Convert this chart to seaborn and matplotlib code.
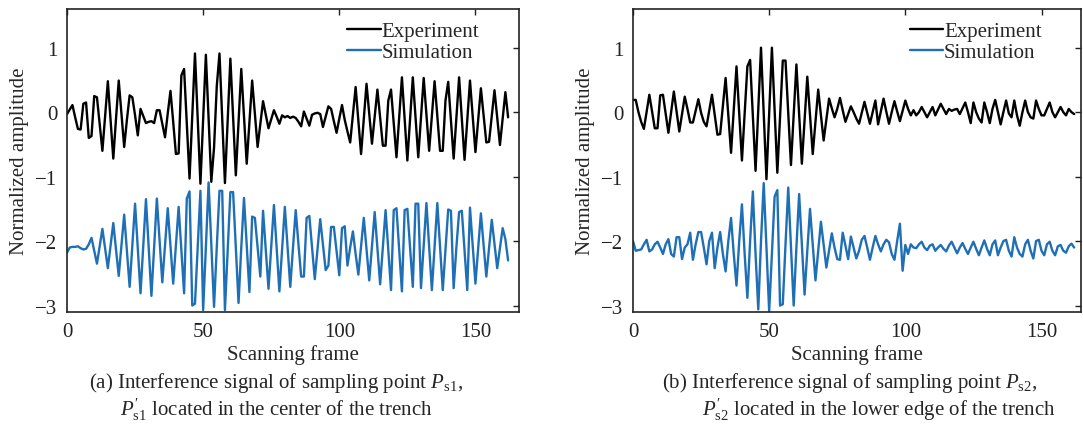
import numpy as np
import pandas as pd
import matplotlib
matplotlib.use("Agg")
import matplotlib.pyplot as plt
import seaborn as sns

# Normalized interference signals, one sample per scanning frame (0..162)
frames = list(range(163))

exp_a = [
    -0.03, 0.04, 0.11, -0.08, -0.26, -0.27, 0.13, 0.15, -0.40, -0.37,
    0.25, 0.23, -0.18, -0.60, -0.05, 0.48, -0.12, -0.72, -0.10, 0.49,
    -0.02, -0.54, -0.12, 0.26, 0.23, -0.05, -0.36, 0.05, -0.06, -0.17,
    -0.15, -0.14, -0.17, 0.03, 0.03, -0.18, -0.39, -0.02, 0.33, -0.15,
    -0.65, -0.64, 0.57, 0.67, -0.18, -1.03, -0.06, 0.91, -0.10, -1.11,
    -0.11, 0.89, -0.10, -1.08, -0.55, 0.40, 0.91, -0.10, -1.10, -0.13,
    0.83, -0.08, -0.98, -0.15, 0.67, -0.07, -0.80, -0.15, 0.49, -0.03,
    -0.54, -0.18, 0.17, -0.04, -0.25, -0.11, 0.03, -0.07, -0.18, -0.05,
    -0.08, -0.06, -0.09, -0.07, -0.09, -0.15, -0.22, 0.01, -0.10, -0.21,
    -0.04, -0.02, -0.01, -0.03, -0.23, -0.07, 0.09, 0.05, -0.14, -0.32,
    -0.10, 0.11, -0.12, -0.30, -0.47, -0.04, 0.39, -0.13, -0.65, -0.10,
    0.44, -0.02, -0.49, -0.07, 0.35, -0.08, -0.52, -0.52, 0.18, 0.35,
    -0.17, -0.70, -0.08, 0.54, -0.10, -0.75, -0.10, 0.54, -0.08, -0.70,
    -0.09, 0.53, -0.04, -0.60, -0.06, 0.48, -0.06, -0.60, -0.60, 0.18,
    0.47, -0.12, -0.72, -0.09, 0.54, -0.10, -0.74, -0.12, 0.49, -0.07,
    -0.62, -0.12, 0.37, -0.05, -0.47, -0.46, -0.06, 0.34, -0.08, -0.51,
    -0.10, 0.31, -0.08,
]

sim_a = [
    -2.18, -2.10, -2.09, -2.09, -2.08, -2.11, -2.13, -2.12, -2.05, -1.95,
    -2.15, -2.35, -2.08, -1.81, -2.12, -2.42, -2.07, -1.72, -2.13, -2.54,
    -2.06, -1.59, -2.15, -2.71, -2.07, -1.42, -2.12, -2.81, -2.08, -1.35,
    -2.10, -2.85, -2.10, -1.34, -1.99, -2.64, -2.06, -1.49, -2.08, -2.66,
    -2.06, -1.47, -2.14, -2.81, -1.34, -1.23, -3.00, -2.97, -2.10, -1.22,
    -3.07, -2.10, -1.09, -2.05, -3.02, -2.10, -1.22, -1.22, -3.07, -2.15,
    -1.24, -1.24, -2.10, -2.96, -2.10, -1.33, -2.06, -2.79, -1.62, -1.64,
    -2.10, -2.55, -1.53, -2.13, -2.74, -2.08, -1.44, -2.10, -2.78, -2.12,
    -1.47, -2.10, -2.71, -2.10, -1.52, -2.05, -2.55, -2.55, -1.64, -1.61,
    -2.10, -2.59, -2.12, -1.66, -2.05, -2.45, -2.38, -1.78, -1.78, -2.15,
    -2.53, -1.80, -1.77, -2.38, -2.10, -1.85, -2.20, -2.52, -2.08, -1.64,
    -2.12, -2.61, -2.08, -1.55, -2.11, -2.67, -2.10, -1.52, -2.14, -2.76,
    -1.52, -1.49, -2.14, -2.78, -1.52, -1.50, -2.10, -2.71, -1.42, -1.42,
    -2.73, -2.07, -1.41, -2.08, -2.76, -2.08, -1.41, -2.08, -2.76, -2.14,
    -1.51, -1.53, -2.73, -2.10, -1.55, -1.53, -2.15, -2.76, -1.48, -2.07,
    -2.66, -2.12, -1.57, -2.06, -2.55, -2.11, -1.67, -2.04, -2.42, -2.11,
    -1.80, -1.97, -2.30,
]

exp_b = [
    0.19, 0.19, 0.00, -0.15, -0.26, 0.00, 0.27, 0.01, -0.25, -0.25,
    0.26, 0.27, -0.02, -0.32, 0.00, 0.32, 0.01, -0.30, -0.03, 0.24,
    0.05, -0.16, -0.16, 0.02, 0.20, -0.01, -0.15, -0.22, 0.03, 0.27,
    -0.04, -0.35, -0.34, 0.10, 0.53, -0.05, -0.63, 0.04, 0.71, -0.02,
    -0.75, -0.02, 0.71, 0.81, -0.05, -0.91, 0.05, 1.00, -0.02, -1.04,
    -0.02, 1.00, 0.03, -0.94, -0.07, 0.80, 0.80, -0.01, -0.82, -0.04,
    0.74, -0.03, -0.80, -0.12, 0.55, -0.05, -0.65, -0.15, 0.35, -0.05,
    -0.44, -0.11, 0.21, 0.06, -0.08, 0.05, 0.22, 0.03, -0.15, -0.03,
    0.09, 0.00, -0.10, -0.18, -0.01, 0.16, -0.01, -0.18, 0.00, 0.18,
    -0.19, 0.01, 0.21, 0.01, -0.18, 0.00, 0.17, 0.01, -0.14, 0.02,
    0.18, 0.05, -0.05, 0.03, -0.05, 0.00, 0.08, 0.00, -0.08, 0.00,
    0.08, -0.05, 0.04, 0.13, 0.05, -0.03, 0.05, 0.02, 0.04, 0.05,
    -0.03, 0.06, 0.15, 0.00, -0.17, 0.15, 0.00, -0.10, -0.16, 0.15,
    0.00, -0.17, 0.05, 0.19, 0.00, -0.19, 0.00, 0.18, -0.02, -0.08,
    0.18, -0.05, -0.21, 0.00, 0.18, 0.00, -0.08, -0.10, 0.18, 0.05,
    -0.05, -0.05, 0.05, 0.15, 0.00, -0.08, 0.00, 0.08, 0.00, -0.05,
    0.05, 0.00, -0.03,
]

sim_b = [
    -2.00, -2.15, -2.14, -2.13, -2.05, -1.98, -2.16, -2.13, -2.05, -2.01,
    -2.10, -2.20, -2.05, -1.97, -2.20, -2.24, -1.94, -1.94, -2.28, -2.10,
    -2.05, -1.87, -2.29, -2.05, -1.86, -1.86, -2.10, -2.36, -2.00, -1.87,
    -2.42, -2.10, -1.86, -2.20, -2.47, -2.00, -1.64, -2.20, -2.69, -2.00,
    -1.43, -2.20, -2.88, -2.00, -1.23, -2.20, -3.06, -2.00, -1.10, -2.10,
    -3.09, -2.20, -1.31, -1.21, -3.00, -2.98, -2.05, -1.17, -2.10, -3.00,
    -2.10, -1.27, -2.05, -2.83, -2.15, -1.50, -2.05, -2.61, -2.15, -1.70,
    -2.05, -2.41, -2.15, -1.88, -2.10, -2.28, -2.29, -1.87, -2.07, -2.28,
    -1.93, -2.10, -2.27, -2.15, -1.98, -1.92, -2.10, -2.29, -2.10, -1.92,
    -2.05, -2.16, -2.05, -1.98, -2.02, -2.20, -2.29, -2.00, -1.73, -2.46,
    -2.06, -2.20, -2.05, -2.10, -2.11, -2.05, -2.01, -2.10, -2.14, -2.07,
    -2.05, -2.15, -2.10, -2.06, -2.12, -2.16, -2.07, -2.01, -2.10, -2.19,
    -2.10, -2.03, -2.12, -2.20, -2.10, -2.01, -2.12, -2.22, -2.10, -1.99,
    -2.12, -2.22, -2.05, -1.99, -2.22, -2.10, -2.00, -1.98, -2.15, -2.24,
    -1.94, -2.10, -2.20, -2.24, -2.05, -1.98, -2.15, -2.27, -2.00, -1.98,
    -2.15, -2.22, -2.05, -2.01, -2.15, -2.22, -2.08, -2.06, -2.15, -2.18,
    -2.08, -2.04, -2.10,
]

series_names = ["Experiment", "Simulation"]
x_ticks = [0, 50, 100, 150]
y_ticks = [-3, -2, -1, 0, 1]
captions = [
    ("(a) Interference signal of sampling point $P_{\\mathrm{s1}}$,",
     "$P^{\\prime}_{\\mathrm{s1}}$ located in the center of the trench"),
    ("(b) Interference signal of sampling point $P_{\\mathrm{s2}}$,",
     "$P^{\\prime}_{\\mathrm{s2}}$ located in the lower edge of the trench"),
]

sns.set_style("white")
plt.rcParams["font.family"] = ["Liberation Serif", "DejaVu Serif"]
plt.rcParams["mathtext.fontset"] = "custom"
plt.rcParams["mathtext.rm"] = "Liberation Serif"
plt.rcParams["mathtext.it"] = "Liberation Serif:italic"
plt.rcParams["axes.unicode_minus"] = True

palette = {"Experiment": "#000000", "Simulation": "#1f6fb6"}


def long_frame(exp_vals, sim_vals):
    return pd.concat([
        pd.DataFrame({"frame": frames, "amp": exp_vals, "series": series_names[0]}),
        pd.DataFrame({"frame": frames, "amp": sim_vals, "series": series_names[1]}),
    ], ignore_index=True)


W, H = 1083, 427
fig = plt.figure(figsize=(W / 100, H / 100), dpi=100)

panels = [
    dict(data=long_frame(exp_a, sim_a), rect=(67, 10, 519, 313), xmax=166.0,
         cap_x=(276, 276)),
    dict(data=long_frame(exp_b, sim_b), rect=(633, 10, 1081, 313), xmax=164.5,
         cap_x=(850, 879)),
]

for p, (cap1, cap2) in zip(panels, captions):
    x0, y0, x1, y1 = p["rect"]
    ax = fig.add_axes([x0 / W, 1 - y1 / H, (x1 - x0) / W, (y1 - y0) / H])
    sns.lineplot(data=p["data"], x="frame", y="amp", hue="series",
                 palette=palette, estimator=None, linewidth=1.7,
                 legend=True, ax=ax)
    ax.set_xlim(0, p["xmax"])
    ax.set_ylim(-3.1, 1.6)
    ax.set_xticks(x_ticks)
    ax.set_yticks(y_ticks)
    ax.tick_params(direction="in", length=4, width=1.0, top=True, right=True,
                   labelsize=15, pad=7, colors="#222222")
    for s in ax.spines.values():
        s.set_linewidth(1.2)
        s.set_color("#222222")
    ax.set_xlabel("Scanning frame", fontsize=15)
    ax.set_ylabel("Normalized amplitude", fontsize=15)
    ax.xaxis.set_label_coords(0.5, -0.105)
    ax.yaxis.set_label_coords(-0.085, 0.5)
    leg = ax.legend(loc="upper right", bbox_to_anchor=(0.912, 0.958),
                    frameon=False, fontsize=15, handlelength=1.6,
                    handletextpad=0.05, labelspacing=0.05,
                    borderaxespad=0, borderpad=0)
    for line in leg.get_lines():
        line.set_linewidth(1.7)
    fig.text(p["cap_x"][0] / W, 1 - 383 / H, cap1, ha="center", va="center",
             fontsize=15)
    fig.text(p["cap_x"][1] / W, 1 - 410 / H, cap2, ha="center", va="center",
             fontsize=15)

fig.savefig("out.png", dpi=100)
